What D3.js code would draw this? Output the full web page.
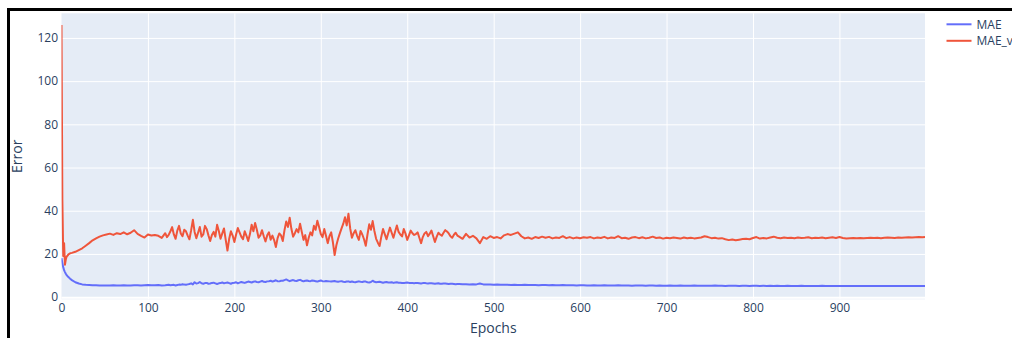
<!DOCTYPE html>
<html><head><meta charset="utf-8">
<script src="https://cdn.jsdelivr.net/npm/d3@7"></script>
<style>body{margin:0;background:#fff;overflow:hidden}svg{display:block}</style>
</head><body>
<script>
// ---- data ----
const epochs = [0,1,2,3,4,5,6,7,8,9,10]
  .concat(d3.range(12, 120, 4))
  .concat(d3.range(120, 460, 2))
  .concat(d3.range(460, 1000, 4))
  .concat([999]);
const maeVal = [
 126, 45, 19, 25, 15, 17.5, 18.8, 19.2, 19.8, 20, 20.3,
 20.5, 21, 21.8, 22.6, 23.8, 25, 26.3, 27.2, 28, 28.6, 29, 29.4, 28.8, 29.6, 29.2, 30, 29.1, 29.8, 31, 29.3, 28.4, 27.6, 29, 28.5, 28.8, 28.4, 27.4,
 29.6, 27.8, 28.8, 30.5, 32.4, 29, 27, 30.8, 33, 29.5, 28.2, 31.2, 30.5, 28.5, 26.8, 31, 35.8, 30.2, 27.3, 29.8,
 32.5, 28, 29, 33, 31.5, 28.6, 26, 28.8, 30.2, 28, 33.5, 30.6, 27, 29.5, 31.8, 26.5, 21.6, 27, 30.5, 28.5,
 25.5, 29, 32, 30, 28, 26.8,
 30.5, 28.4, 26, 29.2, 33.5, 30.5, 34.3, 31.2, 27.5, 28.6, 31, 28.2, 25.8, 28.6, 30, 26.6, 28.5, 26.4, 23.2, 27.3,
 29.5, 28.6, 26, 31, 35, 32.5, 36.8, 31.5, 28, 29.6, 31.5, 30, 34, 30.2, 26.5, 28.7, 24, 27.5, 30, 28.6,
 33, 31.2, 35.4, 32.5, 29.2, 27.8, 31.5, 28.4, 25, 28.2,
 30, 25.4, 19.5, 24, 27, 29.5, 31.8, 34, 37, 33.2, 38.6, 31.8, 27.5, 29.6, 31, 28.4, 26.5, 30.6, 29, 26.8,
 23.8, 29, 33.7, 31.2, 35.2, 30.6, 27, 25.2, 23.7, 28, 31.5, 29.2, 26.8, 29.6, 32.2, 29.8, 27.5, 30.4, 33.2, 30.2,
 29, 28.1, 31.5, 29.4, 26.5, 28.6, 30.8, 29.6, 28.8, 29.2,
 30, 27.5, 25, 27.8, 29.5, 30.2, 28.2, 29.4, 30.8, 28.2, 25.5, 27.9, 29.8, 29, 28.4, 29.8, 31, 30.4, 29.5, 28.2,
 27.5, 28.9, 29.8, 28.5,
 28, 27, 29.3, 27.6, 28.4, 27.2, 25, 27.8, 27, 28.2, 27.4, 27.8, 27.2,
 28.6, 29.2, 28.8, 29.4, 30, 28.2, 27.2, 27.6, 27, 27.8, 27.4, 28, 27.5, 27.9, 27.2, 27.6, 27.4, 28.2, 27.3, 27.8, 27.2, 27.6, 27.3, 27.7, 27.5,
 27.8, 27.2, 27.6, 27.4, 27.9, 27.2, 27.6, 27.4, 28.2, 27.3, 27.5, 27, 27.6, 27.8, 27.3, 27.7, 27.2, 27.5, 28, 27.4, 27.6, 27.1, 27.5, 27.3, 27.6,
 27.4, 27.1, 27.6, 27.3, 27.5, 27.2, 27.4, 27.6, 28.2, 27.8, 27.3, 27.5, 27.1, 27.3, 26.8, 26.4, 26.7, 26.3, 26.6, 26.9, 27, 26.8, 27.4, 27.8, 27.1,
 27.4, 27.2, 27.6, 28, 27.5, 27.3, 27.6, 27.4, 27.5, 27.3, 27.6, 27.4, 27.5, 27.7, 27.3, 27.5, 27.4, 27.6, 27.3, 27.5, 27.7, 27.4, 27.8, 27.4, 27.2,
 27.3, 27.4, 27.3, 27.4, 27.3, 27.4, 27.5, 27.4, 27.5, 27.3, 27.5, 27.6, 27.5, 27.4, 27.6, 27.5, 27.6, 27.7, 27.6, 27.7, 27.8, 27.7,
 27.8
];
const mae = [
 18, 15.8, 13.8, 12.5, 11.6, 10.8, 10.2, 9.7, 9.3, 8.9, 8.5,
 7.9, 6.9, 6.3, 5.9, 5.7, 5.6, 5.5, 5.5, 5.4, 5.4, 5.4, 5.4, 5.5, 5.4, 5.4, 5.5, 5.4, 5.4, 5.5, 5.5, 5.4, 5.5, 5.6, 5.5, 5.5, 5.6, 5.4,
 5.5, 5.6, 5.7, 5.5, 5.6, 5.7, 5.4, 5.6, 5.8, 5.7, 6.0, 5.8, 5.7, 5.9, 6.1, 6.4, 5.9, 6.9, 6.3, 6.5,
 7.0, 6.4, 6.2, 6.5, 6.6, 6.2, 6.3, 6.6, 6.7, 6.4, 6.1, 6.4, 6.5, 6.8, 6.4, 6.6, 6.8, 6.5, 6.2, 6.6,
 6.7, 6.9, 6.4, 6.7, 7.0, 6.8,
 6.6, 6.9, 7.2, 7.0, 6.8, 7.1, 7.3, 7.0, 6.9, 7.2, 7.5, 7.1, 7.0, 7.3, 7.4, 7.6, 7.2, 7.5, 7.8, 7.4,
 7.3, 7.6, 7.6, 7.9, 8.2, 7.8, 7.4, 7.7, 7.9, 7.6, 7.5, 7.8, 8.0, 7.6, 7.3, 7.6, 7.7, 7.5, 7.4, 7.7,
 7.6, 7.4, 7.2, 7.5, 7.7, 7.4, 7.3, 7.5, 7.4, 7.3,
 7.2, 7.4, 7.5, 7.2, 7.1, 7.3, 7.4, 7.1, 7.0, 7.2, 7.3, 7.0, 7.2, 7.0, 6.9, 7.1, 7.3, 7.1, 7.0, 7.2,
 7.2, 6.9, 6.8, 7.0, 7.6, 7.1, 6.9, 7.0, 7.1, 6.9, 6.7, 6.9, 7.0, 6.8, 6.8, 6.9, 6.6, 6.8, 6.9, 6.7,
 6.7, 6.6, 6.5, 6.7, 6.8, 6.6, 6.6, 6.5, 6.4, 6.6,
 6.5, 6.4, 6.3, 6.5, 6.6, 6.4, 6.3, 6.4, 6.4, 6.3, 6.2, 6.3, 6.4, 6.2, 6.2, 6.3, 6.3, 6.2, 6.1, 6.2,
 6.2, 6.1, 6.0, 6.1,
 6.1, 6.0, 6.0, 5.9, 6.0, 5.9, 6.3, 5.9, 5.8, 5.8, 5.7, 5.9, 5.7,
 5.7, 5.7, 5.6, 5.7, 5.6, 5.6, 5.7, 5.6, 5.6, 5.6, 5.5, 5.6, 5.6, 5.5, 5.6, 5.5, 5.5, 5.6, 5.5, 5.5, 5.5, 5.4, 5.5, 5.5, 5.4,
 5.4, 5.5, 5.4, 5.4, 5.5, 5.4, 5.4, 5.4, 5.5, 5.4, 5.4, 5.4, 5.3, 5.4, 5.4, 5.4, 5.3, 5.4, 5.4, 5.3, 5.4, 5.3, 5.3, 5.4, 5.3,
 5.3, 5.4, 5.3, 5.3, 5.3, 5.4, 5.3, 5.3, 5.3, 5.3, 5.3, 5.4, 5.3, 5.3, 5.2, 5.3, 5.3, 5.3, 5.2, 5.3, 5.3, 5.2, 5.3, 5.3, 5.2,
 5.3, 5.2, 5.3, 5.2, 5.3, 5.2, 5.2, 5.3, 5.2, 5.2, 5.2, 5.3, 5.2, 5.2, 5.2, 5.2, 5.2, 5.3, 5.2, 5.2, 5.2, 5.2, 5.1, 5.2, 5.2,
 5.2, 5.2, 5.1, 5.2, 5.2, 5.1, 5.2, 5.2, 5.1, 5.2, 5.1, 5.2, 5.1, 5.2, 5.1, 5.1, 5.2, 5.1, 5.1, 5.2, 5.1, 5.1,
 5.1
];
const seriesNames = ["MAE", "MAE_val"];
const seriesColors = ["#636efa", "#EF553B"];
const xTicks = [0,100,200,300,400,500,600,700,800,900];
const yTicks = [0,20,40,60,80,100,120];

// ---- layout ----
const W = 1012, H = 338;
const L = 61.5, R = 925, T = 13.3, B = 299.3;
const font = '"Open Sans", verdana, arial, sans-serif';
const txt = "#2a3f5f";

const svg = d3.select("body").append("svg").attr("width", W).attr("height", H);

const x = d3.scaleLinear().domain([0, 999]).range([L, R]);
const y = d3.scaleLinear().domain([-1.0, 131.4]).range([B, T]);

svg.append("rect").attr("x", L).attr("y", T).attr("width", R - L).attr("height", B - T).attr("fill", "#E5ECF6");

const gx = svg.append("g").attr("transform", `translate(0,${B})`)
  .call(d3.axisBottom(x).tickValues(xTicks).tickSize(-(B - T)).tickFormat(d => d));
gx.select(".domain").remove();
gx.selectAll("line").attr("stroke", "#fff").attr("stroke-width", 1).filter(d => d === 0).remove();
gx.selectAll("text").attr("fill", txt).attr("font-family", font).attr("font-size", 12).attr("dy", null).attr("y", 12.5);

const gy = svg.append("g").attr("transform", `translate(${L},0)`)
  .call(d3.axisLeft(y).tickValues(yTicks).tickSize(-(R - L)).tickFormat(d => d));
gy.select(".domain").remove();
gy.selectAll("line").attr("stroke", "#fff").attr("stroke-width", d => d === 0 ? 2 : 1);
gy.selectAll("text").attr("fill", txt).attr("font-family", font).attr("font-size", 12).attr("x", -3.5);

svg.append("clipPath").attr("id", "clip").append("rect")
  .attr("x", L).attr("y", T).attr("width", R - L).attr("height", B - T);

const n = Math.min(epochs.length, mae.length, maeVal.length);
const line = d3.line().defined((d, i) => i < n).x((d, i) => x(epochs[i])).y(d => y(d));
const plot = svg.append("g").attr("clip-path", "url(#clip)");
[mae, maeVal].forEach((vals, k) => {
  plot.append("path").datum(vals).attr("d", line).attr("fill", "none")
    .attr("stroke", seriesColors[k]).attr("stroke-width", 2).attr("stroke-linejoin", "round");
});

svg.append("text").attr("x", (L + R) / 2).attr("y", 333).attr("text-anchor", "middle")
  .attr("fill", txt).attr("font-family", font).attr("font-size", 14).text("Epochs");
svg.append("text").attr("transform", `translate(21.5,${(T + B) / 2}) rotate(-90)`).attr("text-anchor", "middle")
  .attr("fill", txt).attr("font-family", font).attr("font-size", 14).text("Error");

seriesNames.forEach((nm, k) => {
  const yy = 24.3 + k * 16.5;
  svg.append("line").attr("x1", 946.5).attr("x2", 971.5).attr("y1", yy).attr("y2", yy)
    .attr("stroke", seriesColors[k]).attr("stroke-width", 2);
  svg.append("text").attr("x", 976.5).attr("y", yy + 4.3).attr("fill", txt)
    .attr("font-family", font).attr("font-size", 12).text(nm);
});

svg.append("rect").attr("x", 7).attr("y", 8).attr("width", W - 7).attr("height", 3).attr("fill", "#000");
svg.append("rect").attr("x", 7).attr("y", 8).attr("width", 3).attr("height", H - 8).attr("fill", "#000");
</script>
</body></html>
